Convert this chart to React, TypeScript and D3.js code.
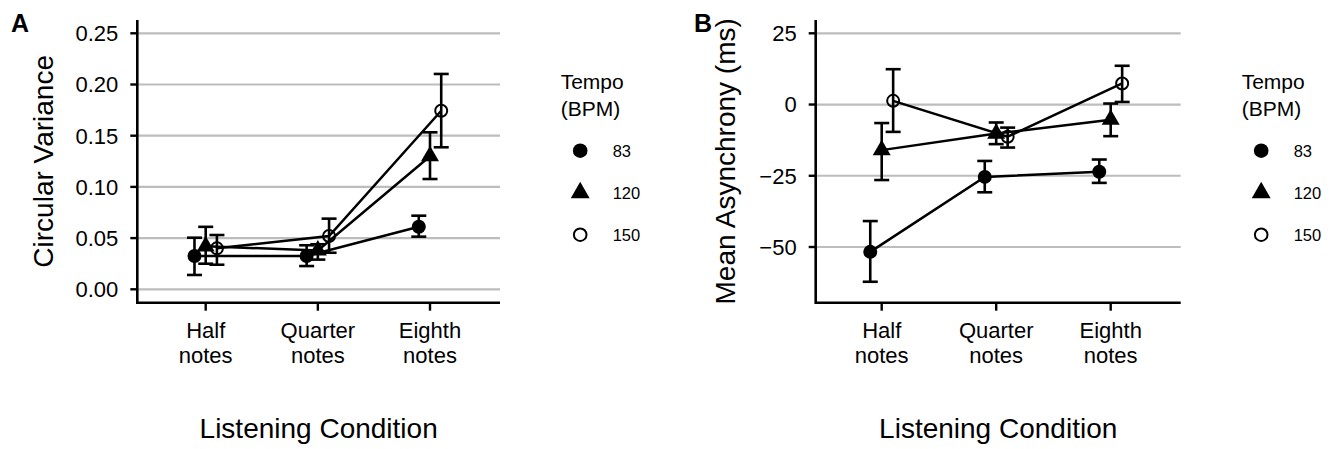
import React from 'react';
import * as d3 from 'd3';

// listening conditions (x axis) and tempo groups
const conditions = ['Half notes', 'Quarter notes', 'Eighth notes'];
const tempos = ['83', '120', '150'];

// panel A: circular variance, rows = tempo 83 / 120 / 150
const cvMean = [
  [0.0325, 0.0325, 0.0611],
  [0.042, 0.038, 0.13],
  [0.04, 0.052, 0.1744],
];
const cvLower = [
  [0.014, 0.0227, 0.0514],
  [0.025, 0.029, 0.1077],
  [0.024, 0.0357, 0.1387],
];
const cvUpper = [
  [0.0504, 0.043, 0.0719],
  [0.061, 0.044, 0.1533],
  [0.053, 0.069, 0.2103],
];
const cvTicks = [0, 0.05, 0.1, 0.15, 0.2, 0.25];

// panel B: mean asynchrony (ms)
const asMean = [
  [-51.7, -25.4, -23.6],
  [-16.0, -10.2, -5.3],
  [1.3, -11.3, 7.4],
];
const asLower = [
  [-62.2, -30.8, -27.5],
  [-26.5, -13.9, -11.1],
  [-9.6, -15.1, 0.9],
];
const asUpper = [
  [-40.9, -19.8, -19.3],
  [-6.5, -6.3, 0.35],
  [12.4, -8.1, 13.6],
];
const asTicks = [-50, -25, 0, 25];

const FONT = '"Liberation Sans", Arial, Helvetica, sans-serif';
const dodge = [-0.1, 0, 0.1];
const top = 20, bottom = 302.7;

function Marker({ i, x, y, legend }: { i: number; x: number; y: number; legend?: boolean }) {
  const r = legend ? 7.3 : 7;
  if (i === 0) return <circle cx={x} cy={y} r={r} fill="#000" />;
  if (i === 2) return <circle cx={x} cy={y} r={r - 1} fill="none" stroke="#000" strokeWidth={2} />;
  const tri = d3.symbol().type(d3.symbolTriangle).size(legend ? 155 : 140)();
  return <path d={tri || ''} transform={`translate(${x},${y})`} fill="#000" />;
}

function Panel(props: {
  letter: string; title: string; mean: number[][]; lower: number[][]; upper: number[][];
  ticks: number[]; fmt: (v: number) => string; left: number; right: number;
  catRange: [number, number]; yDomain: [number, number]; yRange: [number, number];
  titleX: number; legendX: number;
}) {
  const { letter, title, mean, lower, upper, ticks, fmt, left, right, catRange, yDomain, yRange, titleX, legendX } = props;
  const x = d3.scaleLinear().domain([0, 2]).range(catRange);
  const y = d3.scaleLinear().domain(yDomain).range(yRange);
  const line = d3.line<[number, number]>().x(d => d[0]).y(d => d[1]);
  const midX = (left + right) / 2;
  const midY = (top + bottom) / 2;

  return (
    <g fontFamily={FONT}>
      <text x={letter === 'A' ? 11 : 694} y={31.7} fontSize={25} fontWeight="bold">{letter}</text>
      {ticks.map(t => (
        <g key={t}>
          <line x1={left} x2={right} y1={y(t)} y2={y(t)} stroke="#bdbdbd" strokeWidth={2.2} />
          <line x1={left - 7} x2={left} y1={y(t)} y2={y(t)} stroke="#000" strokeWidth={2.4} />
          <text x={left - 19} y={y(t)} dy="0.36em" textAnchor="end" fontSize={22}>{fmt(t)}</text>
        </g>
      ))}
      {tempos.map((_, i) => (
        <g key={'e' + i}>
          {conditions.map((_, j) => {
            const cx = x(j + dodge[i]);
            return (
              <g key={j} stroke="#000" strokeWidth={2.6}>
                <line x1={cx} x2={cx} y1={y(lower[i][j])} y2={y(upper[i][j])} />
                <line x1={cx - 7.5} x2={cx + 7.5} y1={y(lower[i][j])} y2={y(lower[i][j])} />
                <line x1={cx - 7.5} x2={cx + 7.5} y1={y(upper[i][j])} y2={y(upper[i][j])} />
              </g>
            );
          })}
        </g>
      ))}
      {tempos.map((_, i) => (
        <path key={'l' + i} fill="none" stroke="#000" strokeWidth={2.5}
          d={line(mean[i].map((v, j) => [x(j + dodge[i]), y(v)] as [number, number])) || ''} />
      ))}
      {tempos.map((_, i) => mean[i].map((v, j) => (
        <Marker key={`m${i}${j}`} i={i} x={x(j + dodge[i])} y={y(v)} />
      )))}
      <path d={`M${left},${top}V${bottom}H${right}`} fill="none" stroke="#000" strokeWidth={2.6} />
      {conditions.map((c, j) => {
        const [a, b] = c.split(' ');
        return (
          <g key={c} textAnchor="middle" fontSize={22}>
            <line x1={x(j)} x2={x(j)} y1={bottom} y2={bottom + 8} stroke="#000" strokeWidth={2.4} />
            <text x={x(j)} y={338.3}>{a}</text>
            <text x={x(j)} y={362.7}>{b}</text>
          </g>
        );
      })}
      <text x={midX} y={437.7} textAnchor="middle" fontSize={28}>Listening Condition</text>
      <text transform={`translate(${titleX},${midY}) rotate(-90)`} textAnchor="middle" fontSize={28}>{title}</text>
      <text x={legendX} y={89} fontSize={21}>Tempo</text>
      <text x={legendX} y={116} fontSize={21}>(BPM)</text>
      {tempos.map((t, i) => {
        const ly = 150.7 + i * 42;
        return (
          <g key={'k' + t}>
            <Marker i={i} x={legendX + 19.5} y={ly} legend />
            <text x={legendX + 52} y={ly} dy="0.36em" fontSize={16.5}>{t}</text>
          </g>
        );
      })}
    </g>
  );
}

export default function App() {
  return (
    <svg width={1342} height={449} style={{ position: 'absolute', left: 0, top: 0, background: '#fff' }}>
      <Panel letter="A" title="Circular Variance" mean={cvMean} lower={cvLower} upper={cvUpper}
        ticks={cvTicks} fmt={d3.format('.2f')} left={137.3} right={500}
        catRange={[205.7, 430]} yDomain={[0, 0.25]} yRange={[289.3, 33.3]}
        titleX={53.3} legendX={560.7} />
      <Panel letter="B" title="Mean Asynchrony (ms)" mean={asMean} lower={asLower} upper={asUpper}
        ticks={asTicks} fmt={d3.format('d')} left={815.7} right={1180.7}
        catRange={[881.7, 1110.7]} yDomain={[-50, 25]} yRange={[247, 33.3]}
        titleX={735} legendX={1241.7} />
    </svg>
  );
}
